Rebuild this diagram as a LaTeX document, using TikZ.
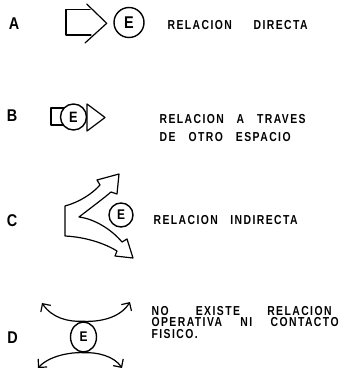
\documentclass[tikz,border=0pt]{standalone}
\usepackage{fontspec}
\setmainfont{Liberation Sans}
\newfontfamily\labfont{Liberation Sans Bold}[LetterSpace=11,FakeStretch=0.8]
\newfontfamily\condfont{Liberation Sans Bold}[FakeStretch=0.85]
\usetikzlibrary{arrows.meta,shapes.geometric}
\begin{document}
\begin{tikzpicture}[x=1pt,y=-1pt,line width=1.2pt,line join=round,line cap=round,
  txt/.style={anchor=base west,inner sep=0pt,font=\labfont\fontsize{13}{13}\selectfont},
  letter/.style={inner sep=0pt,font=\condfont\fontsize{17}{17}\selectfont},
  ecirc/.style={circle,draw,line width=1.4pt,fill=white,inner sep=0pt,minimum size=#1},
  barbs/.style={{Straight Barb[length=6pt,width=12pt]}-{Straight Barb[length=6pt,width=12pt]}}]
\useasboundingbox (0,0) rectangle (340,379);

% row letters
\node[letter] (la) at (14,24) {A};
\node[letter] (lb) at (12,116) {B};
\node[letter] (lc) at (12,221) {C};
\node[letter] (ld) at (12.5,338) {D};

% A: direct relation
\draw (90,9.3) -- (66,9.3) -- (66,35) -- (91,35);
\draw (86.7,4) -- (106.7,23.3) -- (85,43);
\node[ecirc=30,font=\condfont\fontsize{17}{17}\selectfont] (ea) at (129,22.5) {E};
\node[txt] (ta) at (167,30) {\makebox[140pt][s]{RELACION DIRECTA}};

% B: through another space
\draw (74,108) -- (51,108) -- (51,125) -- (74,125);
\draw (87,104) -- (105,117.5) -- (87,131) -- cycle;
\node[ecirc=26,font=\condfont\fontsize{15}{15}\selectfont] (eb) at (73.5,117) {E};
\node[txt] (tb1) at (159,123.5) {\makebox[146pt][s]{RELACION A TRAVES}};
\node[txt] (tb2) at (159,141.5) {\makebox[131pt][s]{DE OTRO ESPACIO}};

% C: indirect relation
\draw (65,206) .. controls (80,202) and (93,193) .. (100,185)
  -- (97,180) -- (119,174) -- (117,194) -- (111,192)
  .. controls (104,198) and (92,207) .. (79,217)
  .. controls (95,219) and (112,230) .. (122,242)
  -- (127,239) -- (133,258) -- (115,256) -- (117,251)
  .. controls (104,243) and (85,237) .. (65,236) -- cycle;
\node[ecirc=24,font=\condfont\fontsize{14}{14}\selectfont] (ec) at (121,215) {E};
\node[txt] (tc) at (153,224) {\makebox[144pt][s]{RELACION INDIRECTA}};

% D: no relation
\node[ellipse,draw,line width=1.4pt,fill=white,inner sep=0pt,minimum width=26pt,minimum height=30pt,
  font=\condfont\fontsize{14}{14}\selectfont] (ed) at (83.5,337) {E};
\coordinate (dul) at (42,303);
\coordinate (dur) at (130,302);
\coordinate (dll) at (38,368);
\coordinate (dlr) at (122,368);
\draw[barbs] (dul) .. controls (52,318) and (68,322) .. (ed.north)
  .. controls (100,322) and (120,318) .. (dur);
\draw[barbs] (dll) .. controls (49,356) and (70,352) .. (ed.south)
  .. controls (97,352) and (114,356) .. (dlr);
\node[txt] (td1) at (151,315) {\makebox[180pt][s]{NO EXISTE RELACION}};
\node[txt] (td2) at (151,326.5) {\makebox[187pt][s]{OPERATIVA NI CONTACTO}};
\node[txt] (td3) at (151,338) {FISICO.};
\end{tikzpicture}
\end{document}
